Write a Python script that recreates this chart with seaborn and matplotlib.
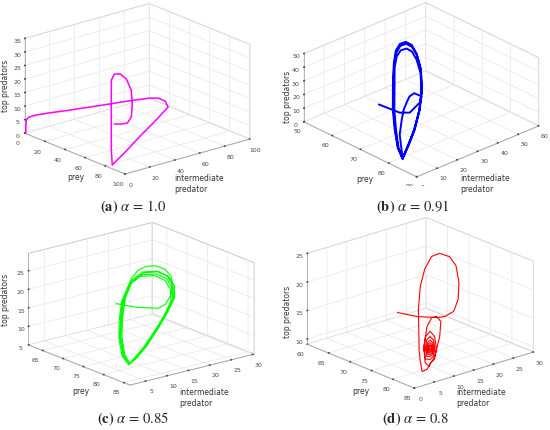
import numpy as np
import pandas as pd
import matplotlib
matplotlib.use('Agg')
import matplotlib.pyplot as plt
import seaborn as sns

sns.set_theme(style='white')
plt.rcParams['font.family'] = ['DejaVu Sans']
plt.rcParams['mathtext.fontset'] = 'stix'
plt.rcParams['grid.color'] = '#e8e8e8'
plt.rcParams['grid.linewidth'] = 0.5

# ---- trajectories: (prey, intermediate predator, top predators)
traj_a = [(0.5, 0.5, 0), (0.5, 0.5, 3), (1, 0.5, 5), (2, 1.7, 6), (5.7, 4.2, 7),
          (9.7, 10.6, 7.5), (16.2, 22.9, 8), (26.2, 41.2, 9), (32.5, 56.2, 9.5),
          (39, 68.5, 10), (42.6, 72.8, 10), (47.8, 74.2, 9.5), (51.8, 73.3, 8),
          (60, 55.5, 6), (66.8, 38.8, 4), (75, 21, 2), (82.5, 6.1, 1), (85.7, 1.2, 1),
          (67.5, 15.1, 2), (49.7, 29.4, 3), (32, 43.7, 4), (25.9, 48.6, 8),
          (23.7, 50.4, 13), (24.9, 49.5, 17), (27.2, 50, 19.5), (29.6, 52.9, 19.5),
          (31.5, 56.2, 17.5), (35.7, 56.7, 14), (42.2, 52.3, 10), (47.4, 47.3, 7),
          (49.8, 42.2, 5.8), (47.6, 39.1, 5.5), (42.9, 37.4, 5)]

traj_b_start = [(63.5, 18.2, 15), (68.5, 21.5, 12), (70.4, 23.8, 12.5), (70.5, 28.6, 17),
                (70, 30.2, 20), (68.6, 28.5, 22), (68, 27, 20), (68.3, 25.2, 17),
                (69, 22.8, 14), (70.5, 19.7, 10), (73.9, 14, 6), (78.5, 8.5, 3), (81.7, 4.6, 2)]
traj_b_cycle1 = [(77.1, 8.6, 3), (72.2, 13.9, 8), (67.2, 19.9, 14), (62.7, 26.2, 24),
                 (59.7, 30.8, 33), (58.6, 33.3, 40), (58.7, 35.2, 44), (59.4, 37.1, 45),
                 (61, 37.8, 44), (63.2, 37.2, 40), (66.1, 35.2, 33), (69.9, 30.4, 25),
                 (73.2, 24.8, 17), (76.5, 17.7, 10), (78.8, 11.6, 5), (81.7, 4.6, 2)]
traj_b_cycle2 = [(77.3, 8.7, 3), (72.5, 14.1, 8), (67.6, 20.1, 14), (63.2, 26.3, 23.5),
                 (60.2, 30.5, 31), (59.3, 32.8, 37), (59.5, 34.5, 40.5), (60.3, 36.3, 41.5),
                 (61.8, 36.8, 40.5), (63.8, 36.3, 37), (66.5, 34.5, 31), (70.1, 30, 24),
                 (73.2, 24.6, 16.5), (76.4, 17.6, 10), (78.7, 11.5, 5), (81.5, 4.8, 2)]
traj_b_cycle3 = [(77.2, 8.6, 3), (72.3, 14, 8), (67.4, 20, 14), (62.9, 26.2, 24),
                 (59.9, 30.7, 32.5), (58.9, 33.1, 39), (59, 35, 43), (59.7, 36.9, 44),
                 (61.3, 37.5, 43), (63.4, 37, 39.5), (66.3, 35, 32.5), (70, 30.3, 24.5),
                 (73.2, 24.7, 17), (76.5, 17.7, 10), (78.8, 11.6, 5), (81.6, 4.7, 2)]

traj_c_start = [(68.2, 15.4, 15), (70.9, 17.7, 14.5), (72.6, 21.1, 14), (73.2, 22.2, 15),
                (73.2, 23.4, 17), (73.6, 23.5, 20.5), (73.5, 23.2, 22.5), (73.2, 22, 24.6),
                (72.7, 20.2, 25.8), (72, 18.8, 25.7), (71.4, 17.6, 24.8), (71.2, 16.2, 23),
                (71.7, 13.8, 18), (73.1, 11.85, 14), (76.1, 8.9, 11), (78.8, 7.1, 8), (79.8, 7.5, 6)]
traj_c_cycle1 = [(78.7, 9.8, 6.2), (77.1, 13.6, 7.5), (75.1, 18.2, 10), (74.1, 21.4, 13),
                 (73.5, 23.6, 16), (73.3, 23.7, 19), (73.4, 22.3, 22), (72.7, 20.5, 23.5),
                 (71.7, 18.1, 23.5), (71.1, 16, 21.5), (71.7, 13.8, 18), (73.1, 11.85, 14),
                 (76.1, 8.9, 11), (78.8, 7.1, 8), (79.8, 7.5, 6)]
traj_c_cycle2 = [(78.8, 10.1, 6.3), (77.2, 14, 7.8), (75.2, 18.6, 10.4), (74.2, 21.8, 13.5),
                 (73.6, 24, 16.5), (73.4, 24.1, 19.5), (73.5, 22.7, 22.5), (72.8, 20.9, 24),
                 (71.8, 18.5, 24), (71.2, 16.4, 22), (71.8, 14.2, 18.5), (73.2, 12.2, 14.4),
                 (76.2, 9.2, 11.3), (78.9, 7.3, 8.2), (79.9, 7.6, 6.1)]
traj_c_cycle3 = [(78.6, 9.5, 6.1), (77, 13.3, 7.3), (75, 17.9, 9.7), (74, 21.1, 12.6),
                 (73.4, 23.3, 15.6), (73.2, 23.4, 18.6), (73.3, 22, 21.6), (72.6, 20.2, 23.1),
                 (71.6, 17.8, 23.1), (71, 15.7, 21.1), (71.6, 13.5, 17.6), (73, 11.6, 13.6),
                 (76, 8.7, 10.7), (78.7, 6.9, 7.8), (79.7, 7.4, 5.9)]
traj_c_cycle4 = [(78.7, 9.9, 6.2), (77.1, 13.8, 7.6), (75.1, 18.4, 10.2), (74.1, 21.6, 13.3),
                 (73.5, 23.8, 16.3), (73.3, 23.9, 19.4), (73.4, 22.5, 22.6), (72.7, 20.7, 24.2),
                 (71.7, 18.3, 24.2), (71.1, 16.2, 22.2), (71.7, 14, 18.3), (73.1, 12, 14.2),
                 (76.1, 9, 11.1), (78.8, 7.2, 8.1), (79.8, 7.5, 6)]

traj_d_loop1 = [(69.6, 12.4, 15), (71.9, 14.8, 14.5), (73.3, 18.3, 14), (74.1, 19.4, 14.2),
                (75.2, 20.5, 15.2), (75.6, 21.2, 17.3), (75.6, 21.4, 20.3), (75, 21.3, 23),
                (74.2, 20.5, 24.5), (73.1, 19.2, 25), (72.4, 18, 24.5), (72, 16.7, 22.5),
                (71.6, 16, 19.5), (71.6, 15.5, 15.5), (72.3, 14.9, 10.5), (74.45, 12.6, 9.9),
                (77, 10.1, 9.5), (80.7, 6.6, 9.3)]
traj_d_loop2 = [(80.7, 7.8, 9.4), (78.4, 12.3, 10), (76.1, 16, 12), (75, 17.5, 14),
                (74.4, 17.1, 14.8), (73.7, 16.6, 14.5), (73.8, 15.3, 13.2), (75, 13.2, 10.5),
                (79, 9.2, 9.8), (80.7, 8.4, 9.8)]
traj_d_spiral = [(81.99, 7.22, 11), (81.03, 9.39, 11), (77.83, 13.32, 11), (77.64, 13.05, 13.15),
                 (77.2, 12.4, 14.04), (76.76, 11.75, 13.15), (76.57, 11.48, 11), (80.15, 8.09, 11),
                 (80.71, 8.6, 11), (80.02, 10.22, 11), (77.68, 13.11, 11), (77.54, 12.9, 12.52),
                 (77.2, 12.4, 13.14), (76.86, 11.9, 12.52), (76.72, 11.69, 11), (79.34, 9.22, 11),
                 (79.76, 9.64, 11), (79.27, 10.83, 11), (77.57, 12.94, 11), (77.46, 12.78, 12.07),
                 (77.2, 12.4, 12.52), (76.94, 12.02, 12.07), (76.83, 11.86, 11), (78.75, 10.07, 11),
                 (79.12, 10.33, 11), (78.75, 11.22, 11), (77.47, 12.8, 11), (77.39, 12.68, 11.76),
                 (77.2, 12.4, 12.07), (77.01, 12.12, 11.76), (76.93, 12.0, 11), (78.37, 10.66, 11),
                 (78.48, 11.02, 11), (78.24, 11.62, 11), (77.39, 12.68, 11), (77.34, 12.6, 11.5),
                 (77.2, 12.4, 11.71), (77.06, 12.2, 11.5), (77.01, 12.12, 11), (77.96, 11.22, 11),
                 (77.97, 11.57, 11), (77.82, 11.94, 11), (77.31, 12.57, 11), (77.28, 12.52, 11.3),
                 (77.2, 12.4, 11.43), (77.12, 12.28, 11.3), (77.09, 12.23, 11), (77.66, 11.69, 11),
                 (77.2, 12.4, 11)]

captions = [r'$\mathbf{(a)}\ \alpha\,=\,1.0$', r'$\mathbf{(b)}\ \alpha\,=\,0.91$',
            r'$\mathbf{(c)}\ \alpha\,=\,0.85$', r'$\mathbf{(d)}\ \alpha\,=\,0.8$']
colors = ['#ff00ff', '#0000ff', '#00ff00', '#ff0000']

prey_ticks = [np.arange(0, 101, 20), np.arange(50, 91, 10), np.arange(65, 86, 5), np.arange(60, 86, 5)]
inter_ticks = [np.arange(0, 101, 20), np.arange(0, 61, 10), np.arange(5, 31, 5), np.arange(0, 31, 5)]
top_ticks = [np.arange(0, 36, 5), np.arange(0, 51, 10), np.arange(5, 26, 5), np.arange(10, 26, 5)]
prey_lims = [(0, 100), (50, 90), (61.5, 86.5), (60, 85)]
inter_lims = [(0, 100), (0, 60), (1.3, 30.3), (0, 30)]
top_lims = [(0, 35), (0, 50), (5, 29.7), (9.1, 25)]


def to_frame(*segments):
    pts = np.vstack([np.array(s, dtype=float) for s in segments])
    return pd.DataFrame(pts, columns=['prey', 'intermediate', 'top'])


frames = [to_frame(traj_a),
          to_frame(traj_b_start, traj_b_cycle1, traj_b_cycle2, traj_b_cycle3),
          to_frame(traj_c_start, traj_c_cycle1, traj_c_cycle2, traj_c_cycle3, traj_c_cycle4),
          to_frame(traj_d_loop1, traj_d_loop2, traj_d_spiral)]

# layout / view settings
views = [(19.7, -39.7), (26.8, -42.8), (18.3, -38.4), (20.6, -40.7)]
aspects = [(1, 1.03, 0.64), (1, 1, 0.46), (1, 0.97, 0.59), (1, 0.955, 0.59)]
centers = [(134, 93), (418, 94), (138, 308), (417, 307)]  # pixel centre of box
caption_pos = [(133, 207), (413, 207), (133, 419), (415, 419)]
prey_lab = [(76, 178), (365, 179), (81, 392), (361, 392)]
inter_lab = [(174, 184), (460, 184), (179, 398), (456, 398)]
top_lab = [(6, 86), (288, 97), (6, 300), (287, 312)]
widths = [1.1, 1.4, 0.8, 0.8]

W, H = 550, 431
fig = plt.figure(figsize=(5.5, 4.31), dpi=100)
side = 240
lab_kw = dict(fontsize=5.5, color='#333333', va='center')

for i, df in enumerate(frames):
    cx, cy = centers[i]
    ax = fig.add_axes([(cx - side / 2) / W, 1 - (cy + side / 2) / H, side / W, side / H],
                      projection='3d', proj_type='ortho')
    ax.set_box_aspect(aspects[i], zoom=1.0)
    ax.view_init(elev=views[i][0], azim=views[i][1])
    ax.plot(df['prey'], df['intermediate'], df['top'], color=colors[i], lw=widths[i])
    ax.set_xlim(prey_lims[i])
    ax.set_ylim(inter_lims[i])
    ax.set_zlim(top_lims[i])
    ax.set_xticks(prey_ticks[i])
    ax.set_yticks(inter_ticks[i])
    ax.set_zticks(top_ticks[i])
    ax.zaxis.set_ticks_position('lower')
    ax.tick_params(labelsize=4.5, colors='#4a4a4a', pad=-3)
    ax.tick_params(axis='z', pad=-5)
    for axis in (ax.xaxis, ax.yaxis, ax.zaxis):
        axis.set_pane_color((1, 1, 1, 1))
        axis.pane.set_edgecolor('#c0c0c0')
        axis.pane.set_linewidth(0.6)
        axis.line.set_color('#a8a8a8')
        axis.line.set_linewidth(0.6)
        axis._axinfo['grid'].update(color='#e6e6e6', linewidth=0.5)
        axis._axinfo['tick'].update(inward_factor=0.0, outward_factor=0.05)
    fig.text(prey_lab[i][0] / W, 1 - prey_lab[i][1] / H, 'prey', ha='center', **lab_kw)
    fig.text(inter_lab[i][0] / W, 1 - inter_lab[i][1] / H, 'intermediate\npredator',
             ha='left', linespacing=1.3, **lab_kw)
    fig.text(top_lab[i][0] / W, 1 - top_lab[i][1] / H, 'top predators', ha='center',
             rotation=90, **lab_kw)
    fig.text(caption_pos[i][0] / W, 1 - caption_pos[i][1] / H, captions[i],
             ha='center', va='center', fontsize=10.5)

fig.savefig('out.png', dpi=100)
